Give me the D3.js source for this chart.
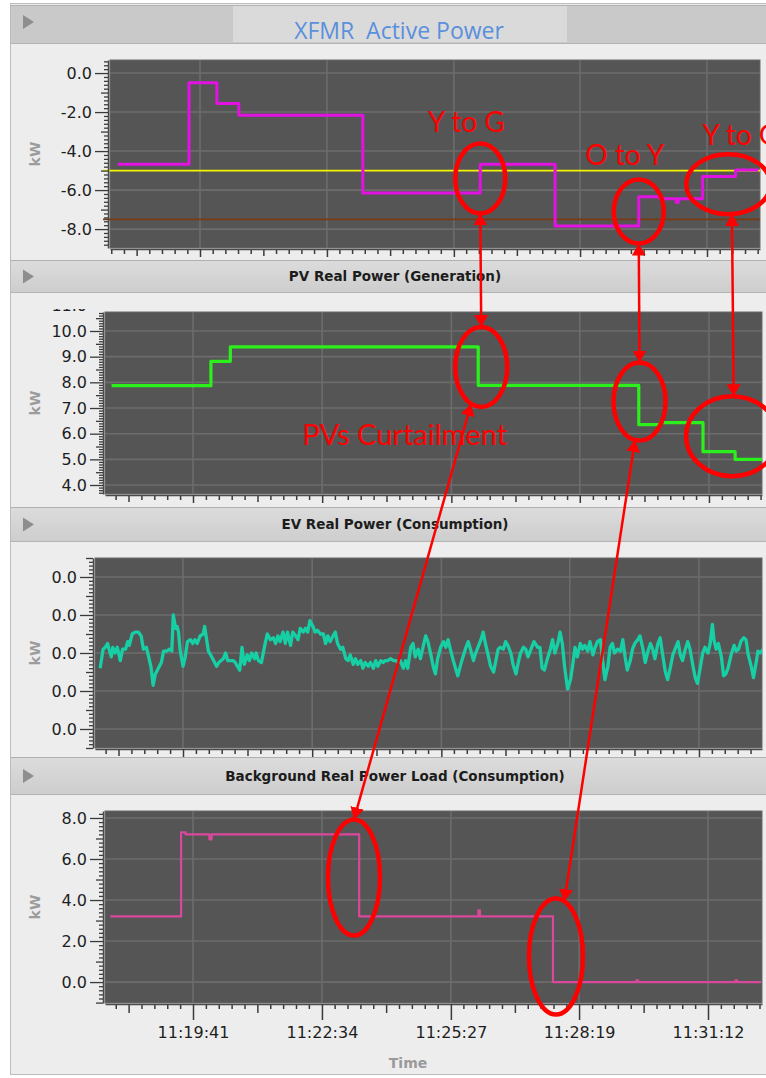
<!DOCTYPE html>
<html>
<head>
<meta charset="utf-8">
<script src="https://cdn.jsdelivr.net/npm/d3@7"></script>
<style>
  html, body { margin: 0; padding: 0; background: #fff; }
  svg { display: block; }
</style>
</head>
<body>
<svg id="chart" width="766" height="1078"></svg>
<script>
// ---- data ----
const xTickLabels = ["11:19:41", "11:22:34", "11:25:27", "11:28:19", "11:31:12"];

const xfmrTime = ["11:17:49", "11:19:26", "11:20:04", "11:20:34", "11:23:23", "11:26:03", "11:27:45",
                  "11:29:39", "11:30:08", "11:30:30", "11:30:33", "11:31:06", "11:31:51", "11:32:22"];
const xfmrKW = [-4.67, -0.5, -1.56, -2.16, -6.15, -4.67, -7.84, -6.34, -6.45, -6.62, -6.45, -5.3, -4.97, -4.97];
const xfmrLimits = [-5.0, -7.5];
const xfmrTicks = [0, -2, -4, -6, -8];

const pvTime = ["11:17:52", "11:20:05", "11:20:31", "11:26:03", "11:29:38", "11:30:07", "11:31:04", "11:31:47", "11:32:23"];
const pvKW = [7.87, 8.82, 9.38, 7.88, 6.35, 6.43, 5.3, 5.0, 5.0];
const pvTicks = [11, 10, 9, 8, 7, 6, 5, 4];

// EV power: seconds after evStart, watts
const evStart = "11:17:50";
const evSec = [
  0, 4, 7, 10, 12, 15, 17, 20, 23, 27,
  30, 34, 37, 39, 43, 47, 51, 55, 58, 62,
  65, 68, 71, 74, 78, 82, 85, 89, 93, 96,
  98, 101, 103, 105, 107, 111, 114, 117, 121, 124,
  127, 130, 134, 138, 140, 143, 145, 148, 152, 156,
  159, 162, 165, 168, 171, 174, 178, 181, 184, 187,
  190, 193, 197, 200, 203, 207, 209, 212, 216, 218,
  221, 224, 228, 232, 235, 238, 241, 245, 248, 251,
  255, 258, 262, 265, 268, 272, 275, 278, 281,
  285, 288, 291, 295, 299, 302, 305, 308, 312, 315,
  318, 322, 325, 329, 332, 335, 339, 342, 345, 349,
  352, 355, 359, 362, 366, 369, 372, 376, 379, 382,
  385, 389, 393, 396, 399, 402, 406, 409, 412, 416,
  419, 422, 426, 429, 433, 436, 439, 443, 446, 449,
  452, 456, 460, 463, 466, 469, 473, 476, 479, 483,
  486, 490, 493, 496, 500, 503, 506, 510, 513, 516,
  519, 523, 527, 530, 533, 536, 540, 543, 546, 550,
  553, 557, 560, 563, 567, 570, 573,
  577, 581, 586, 589, 592, 595, 599, 603, 606, 609,
  613, 616, 619, 622, 626, 630, 633, 636, 639, 643,
  646, 649, 653, 656, 660, 663, 666, 670, 673, 676,
  680, 683, 686, 689, 693, 697, 700, 703, 706, 710,
  713, 716, 720, 723, 727, 730, 733, 737, 740, 743,
  747, 750, 753, 757, 760, 764, 767, 770, 774, 777,
  780, 783, 787, 790, 794, 797, 800, 804, 807, 810,
  814, 817, 820, 822, 825, 828, 832, 835, 838, 841,
  845, 849, 852, 855, 858, 862, 865, 868, 872, 875,
  879, 881, 884, 888
];
const evWatts = [
  -8, 2, 3, 5, 2, -2, 3, 0, 3, -4,
  2, 2, 6, 4, 10, 11, 11, 9, 2, 3,
  -2, -7, -17, -11, -8, -5, 1, 1, 2, 1,
  20, 13, 14, 11, 2, -7, -2, 6, 7, 5,
  7, 5, 9, 10, 14, 6, 1, -1, -4, -7,
  -5, -4, -3, 0, -4, -4, -4, -5, -7, -9,
  3, -6, -1, -4, 0, -3, 0, -4, -5, -1,
  5, 10, 7, 8, 5, 9, 6, 11, 5, 11,
  4, 11, 9, 7, 13, 11, 13, 11, 17,
  14, 11, 12, 10, 10, 5, 9, 6, 9, 11,
  5, 2, 3, -3, -4, -1, -6, -3, -6, -4,
  -8, -5, -7, -5, -8, -4, -7, -4, -5, -4,
  -4, -3, -4, -4, -5, -4, -8, -4, -8, 3,
  5, -2, 2, -3, 4, 9, 6, -1, -7, -11,
  -3, 3, 6, 3, 7, 2, -4, -8, -12, -6,
  -2, 3, 6, 2, -4, 0, 3, 7, 11, 5,
  0, -7, -10, -4, 2, 3, 2, 6, 4, 0,
  -6, -11, -5, 0, 3, 2, -2,
  2, 6, 3, 3, -8, -9, -3, 2, 7, 0,
  5, 11, 5, -7, -19, -14, -6, 3, -2, 5,
  2, 4, 1, 6, -1, 3, 6, 7, -4, -14,
  -7, 3, 5, 0, 2, 1, 7, -2, -9, -4,
  2, 5, 7, 9, 2, -5, 0, 5, 2, -3,
  5, 8, 0, -10, -14, -7, -1, 2, 6, -1,
  -4, 1, 6, 2, -7, -13, -16, -7, 0, 3,
  0, 5, 15, 7, 2, 5, -2, -12, -11, -8,
  -1, 4, 1, 2, 6, 8, 7, -1, -7, -13,
  -4, 1, 0, 2
];
const evTicks = [0.04, 0.02, 0, -0.02, -0.04];

const bgTime = ["11:17:50", "11:19:25", "11:19:31", "11:20:03", "11:20:06", "11:23:24", "11:26:04",
                "11:26:06", "11:27:44", "11:29:36", "11:29:38", "11:31:49", "11:31:51", "11:32:23"];
const bgKW = [3.2, 7.3, 7.2, 6.95, 7.2, 3.2, 3.5, 3.2, 0.0, 0.08, 0.0, 0.08, 0.0, 0.0];
const bgTicks = [8, 6, 4, 2, 0];

const titles = ["XFMR  Active Power", "PV Real Power (Generation)",
                "EV Real Power (Consumption)", "Background Real Power Load (Consumption)"];

// ---- helpers ----
const parseT = d3.timeParse("%H:%M:%S");
const fmt = d3.formatLocale({decimal: ".", thousands: ",", grouping: [3], currency: ["", ""], minus: "-"}).format(".1f");
const t0 = parseT(xTickLabels[0]);
const tickDates = xTickLabels.map(parseT);
const majStep = (tickDates[tickDates.length - 1] - tickDates[0]) / (tickDates.length - 1);

const pairs = (ts, vs) => ts.map((s, i) => ({t: parseT(s), v: vs[i]}));
const evBase = parseT(evStart);
const evData = evSec.map((s, i) => ({t: new Date(+evBase + s * 1000), v: evWatts[i] / 1000}));

// layout of the four stacked panels
const panels = [
  {hdr: [5, 44], l: 110, r: 760, t: 60, b: 248, px0: 200, k: 0.7337, yDom: [-8.97, 0.67], ticks: xfmrTicks,
   minor: 0.2, mid: 1,
   series: [{data: pairs(xfmrTime, xfmrKW), color: "#e212e2", w: 3, step: true}]},
  {hdr: [260, 293], l: 105, r: 762, t: 312, b: 494, px0: 193, k: 0.7467, yDom: [3.65, 10.74], ticks: pvTicks,
   minor: 0.1, mid: 0.5,
   series: [{data: pairs(pvTime, pvKW), color: "#2cf01c", w: 3.2, step: true}]},
  {hdr: [507, 542], l: 95, r: 762, t: 558, b: 748, px0: 183, k: 0.7467, yDom: [-0.05, 0.05], ticks: evTicks,
   minor: 0.002, mid: 0.01,
   series: [{data: evData, color: "#17cfa5", w: 3.3, step: false}]},
  {hdr: [757, 795], l: 105, r: 762, t: 811, b: 1003, px0: 193, k: 0.7453, yDom: [-1.02, 8.34], ticks: bgTicks,
   minor: 0.2, mid: 1,
   series: [{data: pairs(bgTime, bgKW), color: "#da489d", w: 2.2, step: true}]}
];

const svg = d3.select("#chart");
const defs = svg.append("defs");
const grad = defs.append("linearGradient").attr("id", "hdrGrad").attr("x1", 0).attr("y1", 0).attr("x2", 0).attr("y2", 1);
grad.append("stop").attr("offset", "0%").attr("stop-color", "#dcdcdc");
grad.append("stop").attr("offset", "100%").attr("stop-color", "#cdcdcd");

svg.append("rect").attr("width", 766).attr("height", 1078).attr("fill", "#fff");
svg.append("rect").attr("x", 10.5).attr("y", 3.5).attr("width", 770).attr("height", 1071)
  .attr("fill", "#ededed").attr("stroke", "#bcbcbc");

const scales = [];

panels.forEach((p, i) => {
  const last = i === panels.length - 1;
  const x = d3.scaleTime()
    .domain([new Date(+t0 + (p.l - p.px0) / p.k * 1000), new Date(+t0 + (p.r - p.px0) / p.k * 1000)])
    .range([p.l, p.r]);
  const y = d3.scaleLinear().domain(p.yDom).range([p.b, p.t]);
  scales.push({x, y});

  // header bar
  const h = svg.append("g");
  h.append("rect").attr("x", 11).attr("y", p.hdr[0]).attr("width", 755).attr("height", p.hdr[1] - p.hdr[0])
    .attr("fill", i === 0 ? "#c9c9c9" : "url(#hdrGrad)");
  h.append("line").attr("x1", 11).attr("x2", 766).attr("y1", p.hdr[0] + 0.5).attr("y2", p.hdr[0] + 0.5).attr("stroke", "#b0b0b0");
  h.append("line").attr("x1", 11).attr("x2", 766).attr("y1", p.hdr[1] - 0.5).attr("y2", p.hdr[1] - 0.5).attr("stroke", "#b4b4b4");
  const triY = i === 0 ? 22 : (p.hdr[0] + p.hdr[1]) / 2;
  h.append("path").attr("d", `M23,${triY - 7}L34,${triY}L23,${triY + 7}Z`).attr("fill", "#8e8e8e");
  if (i === 0) {
    h.append("rect").attr("x", 233).attr("y", p.hdr[0] + 1).attr("width", 334).attr("height", p.hdr[1] - p.hdr[0] - 3)
      .attr("fill", "#dadada");
    h.append("text").attr("x", 399).attr("y", 39).attr("text-anchor", "middle")
      .attr("font-family", "'Open Sans', sans-serif").attr("font-size", 23).attr("fill", "#5a90dc")
      .attr("xml:space", "preserve").style("white-space", "pre").text(titles[i]);
  } else {
    h.append("text").attr("x", 395).attr("y", (p.hdr[0] + p.hdr[1]) / 2).attr("dy", "0.36em")
      .attr("text-anchor", "middle").attr("font-family", "'DejaVu Sans', sans-serif")
      .attr("font-size", 13.5).attr("font-weight", "bold").attr("fill", "#1c1c1c").text(titles[i]);
  }

  // plot background and grid
  svg.append("rect").attr("x", p.l).attr("y", p.t).attr("width", p.r - p.l).attr("height", p.b - p.t)
    .attr("fill", "#555555").attr("stroke", "#6a6a6a").attr("stroke-width", 1);
  const grid = svg.append("g").attr("stroke", "#6c6c6c").attr("stroke-width", 1.6);
  grid.selectAll(".gx").data(tickDates).join("line")
    .attr("x1", d => x(d)).attr("x2", d => x(d)).attr("y1", p.t).attr("y2", p.b);
  grid.selectAll(".gy").data(p.ticks.filter(v => v >= p.yDom[0] && v <= p.yDom[1])).join("line")
    .attr("x1", p.l).attr("x2", p.r).attr("y1", d => y(d)).attr("y2", d => y(d));

  // clips
  defs.append("clipPath").attr("id", "plot" + i).append("rect")
    .attr("x", p.l).attr("y", p.t).attr("width", p.r - p.l).attr("height", p.b - p.t);
  defs.append("clipPath").attr("id", "yax" + i).append("rect")
    .attr("x", 0).attr("y", p.t - 3).attr("width", p.l).attr("height", p.b - p.t + 6);

  // limit lines on the transformer panel
  if (i === 0) {
    const limColors = ["#f4f400", "#7a3b12"];
    svg.append("g").selectAll("line").data(xfmrLimits).join("line")
      .attr("x1", p.l - 7).attr("x2", p.r).attr("y1", d => y(d)).attr("y2", d => y(d))
      .attr("stroke", (d, j) => limColors[j]).attr("stroke-width", 1.8);
  }

  // series
  const sg = svg.append("g").attr("clip-path", `url(#plot${i})`);
  p.series.forEach(s => {
    const line = d3.line().x(d => x(d.t)).y(d => y(d.v)).curve(s.step ? d3.curveStepAfter : d3.curveLinear);
    sg.append("path").datum(s.data).attr("d", line).attr("fill", "none")
      .attr("stroke", s.color).attr("stroke-width", s.w).attr("stroke-linejoin", "round");
  });

  // y axis: major, medium and minor ticks
  const yg = svg.append("g").attr("clip-path", `url(#yax${i})`);
  const yMinorAll = d3.range(Math.ceil(p.yDom[0] / p.minor - 1e-6), Math.floor(p.yDom[1] / p.minor + 1e-6) + 1)
    .map(n => n * p.minor);
  const isMult = (v, m) => Math.abs(v / m - Math.round(v / m)) < 1e-6;
  const yMinor = yMinorAll.filter(v => !isMult(v, p.mid));
  const yMid = yMinorAll.filter(v => isMult(v, p.mid) && !p.ticks.some(t => Math.abs(t - v) < 1e-9));

  const ax = yg.append("g").attr("transform", `translate(${p.l - 2},0)`);
  ax.append("g").call(d3.axisLeft(y).tickValues(yMinor).tickSize(4).tickFormat(""))
    .call(g => g.select(".domain").remove());
  ax.append("g").call(d3.axisLeft(y).tickValues(yMid).tickSize(7).tickFormat(""))
    .call(g => g.select(".domain").remove());
  ax.append("g").call(d3.axisLeft(y).tickValues(p.ticks).tickSize(13).tickSizeOuter(0).tickPadding(3).tickFormat(fmt))
    .call(g => g.selectAll("text").attr("font-family", "'DejaVu Sans', sans-serif").attr("font-size", 16).attr("fill", "#1e1e1e"));
  ax.selectAll("line").attr("stroke", "#3a3a3a").attr("stroke-width", 1.3);
  ax.selectAll(".domain").attr("stroke", "#4a4a4a").attr("stroke-width", 1.5);

  // kW label
  svg.append("text").attr("transform", `translate(35,${(p.t + p.b) / 2}) rotate(-90)`)
    .attr("text-anchor", "middle").attr("dy", "0.36em")
    .attr("font-family", "'DejaVu Sans', sans-serif").attr("font-size", 14).attr("font-weight", "bold")
    .attr("fill", "#9c9c9c").text("kW");

  // x axis ticks
  const [d0, d1] = x.domain();
  const nStart = Math.ceil((d0 - t0) / (majStep / 10)), nEnd = Math.floor((d1 - t0) / (majStep / 10));
  const xMinor = [], xMid = [];
  d3.range(nStart, nEnd + 1).forEach(n => {
    if (n % 10 === 0) return;
    (n % 5 === 0 ? xMid : xMinor).push(new Date(+t0 + n * majStep / 10));
  });
  const xg = svg.append("g").attr("transform", `translate(0,${p.b + 1})`);
  xg.append("g").call(d3.axisBottom(x).tickValues(xMinor).tickSize(5).tickFormat(""))
    .call(g => g.select(".domain").remove());
  xg.append("g").call(d3.axisBottom(x).tickValues(xMid).tickSize(last ? 9 : 7).tickFormat(""))
    .call(g => g.select(".domain").remove());
  xg.append("g").call(d3.axisBottom(x).tickValues(tickDates).tickSize(last ? 16 : 8).tickSizeOuter(0).tickPadding(7)
      .tickFormat((d, j) => last ? xTickLabels[j] : ""))
    .call(g => g.selectAll("text").attr("font-family", "'DejaVu Sans', sans-serif").attr("font-size", 16).attr("fill", "#1e1e1e"));
  xg.selectAll("line").attr("stroke", "#3a3a3a").attr("stroke-width", 1.5);
  xg.selectAll(".domain").attr("stroke", "#4a4a4a").attr("stroke-width", 1.5);
});

svg.append("text").attr("x", 408).attr("y", 1068).attr("text-anchor", "middle")
  .attr("font-family", "'DejaVu Sans', sans-serif").attr("font-size", 14).attr("font-weight", "bold")
  .attr("fill", "#9a9a9a").text("Time");

// ---- red annotations ----
const rings = [
  {p: 0, t: "11:26:03", v: -5.4, rx: 25, ry: 35},
  {p: 0, t: "11:29:39", v: -7.1, rx: 25, ry: 32},
  {p: 0, t: "11:31:41", v: -5.7, rx: 42, ry: 30},
  {p: 1, t: "11:26:07", v: 8.6, rx: 26, ry: 40},
  {p: 1, t: "11:29:39", v: 7.25, rx: 26, ry: 39},
  {p: 1, t: "11:31:43", v: 5.9, rx: 46, ry: 40},
  {p: 3, t: "11:23:17", v: 5.1, rx: 26, ry: 58},
  {p: 3, t: "11:27:48", v: 1.25, rx: 27, ry: 58}
].map(e => ({...e, cx: scales[e.p].x(parseT(e.t)), cy: scales[e.p].y(e.v)}));

const links = [[0, 90, 3, -90], [1, 90, 4, -90], [2, 85, 5, -88], [3, 113, 6, -90], [4, 100, 7, -72]];
const notes = [
  {e: 0, dx: -14, dy: -46, anchor: "middle", size: 28, text: "Y to G"},
  {e: 1, dx: -14, dy: -47, anchor: "middle", size: 28, text: "O to Y"},
  {e: 2, dx: -26, dy: -39, anchor: "start", size: 28, text: "Y to G"},
  {e: 3, dx: -179, dy: 78, anchor: "start", size: 29, text: "PVs Curtailment"}
];

const onRing = (e, a) => [e.cx + e.rx * Math.cos(a * Math.PI / 180), e.cy + e.ry * Math.sin(a * Math.PI / 180)];

defs.append("marker").attr("id", "head").attr("viewBox", "0 0 12 14").attr("refX", 12).attr("refY", 7)
  .attr("markerWidth", 12).attr("markerHeight", 14).attr("markerUnits", "userSpaceOnUse")
  .attr("orient", "auto-start-reverse")
  .append("path").attr("d", "M0,0L12,7L0,14Z").attr("fill", "#ff0000");

const ann = svg.append("g");
ann.selectAll("ellipse").data(rings).join("ellipse")
  .attr("cx", d => d.cx).attr("cy", d => d.cy).attr("rx", d => d.rx).attr("ry", d => d.ry)
  .attr("fill", "none").attr("stroke", "#ff0000").attr("stroke-width", 4.5);
ann.selectAll("line").data(links).join("line")
  .each(function (d) {
    const a = onRing(rings[d[0]], d[1]), b = onRing(rings[d[2]], d[3]);
    d3.select(this).attr("x1", a[0]).attr("y1", a[1]).attr("x2", b[0]).attr("y2", b[1]);
  })
  .attr("stroke", "#ff0000").attr("stroke-width", 2.5)
  .attr("marker-start", "url(#head)").attr("marker-end", "url(#head)");
ann.selectAll("text").data(notes).join("text")
  .attr("x", d => rings[d.e].cx + d.dx).attr("y", d => rings[d.e].cy + d.dy)
  .attr("text-anchor", d => d.anchor)
  .attr("font-family", "Lato, sans-serif").attr("font-size", d => d.size).attr("fill", "#ff0000")
  .text(d => d.text);
</script>
</body>
</html>
